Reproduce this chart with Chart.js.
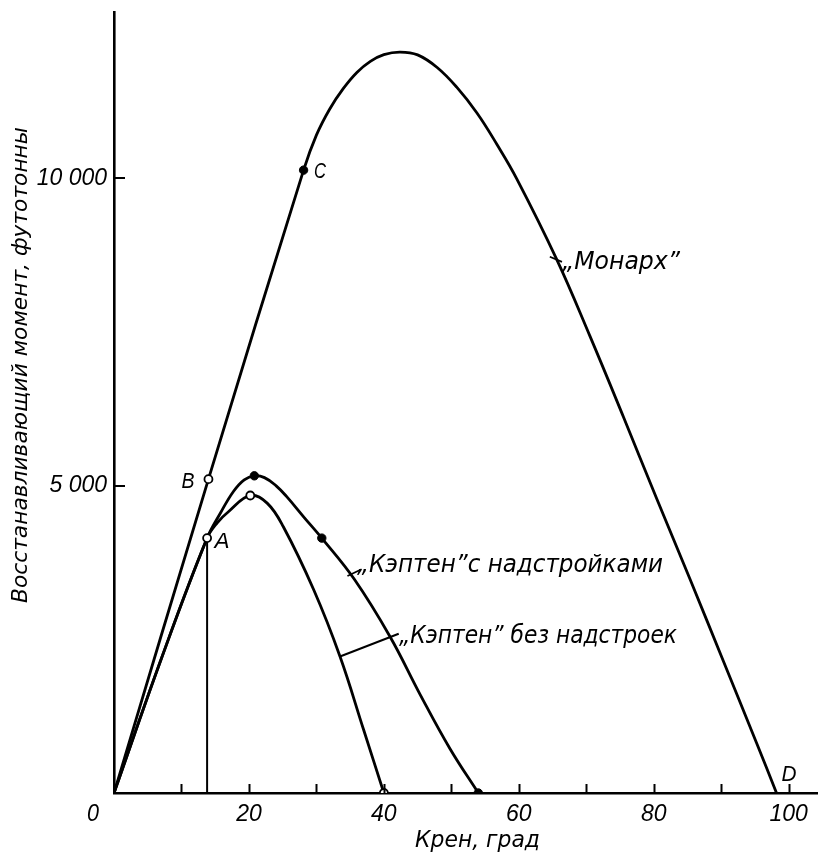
<!DOCTYPE html>
<html>
<head>
<meta charset="utf-8">
<script src="https://cdn.jsdelivr.net/npm/chart.js@4.4.1/dist/chart.umd.min.js"></script>
<style>
html,body{margin:0;padding:0;background:#fff;}
canvas{display:block;}
</style>
</head>
<body>
<canvas id="c" width="818" height="854" style="width:818px;height:854px"></canvas>
<script>
// ---- data (heel angle in degrees, righting moment in foot-tons) ----
const monarchX = [0, 14.0, 28.1, 30.0, 32.0, 34.0, 36.0, 38.0, 40.0, 42.4, 45.0, 47.9, 50.8, 53.8, 56.7, 59.7, 65.6, 70.5, 75.5, 80.4, 85.4, 90.3, 95.2, 98.2];
const monarchY = [0, 5105, 10131, 10700, 11130, 11460, 11720, 11900, 12010, 12051, 12005, 11800, 11480, 11060, 10560, 9990, 8684, 7443, 6120, 4797, 3473, 2150, 826, 0];

const captainWithX = [0, 7, 13.8, 15.8, 17.7, 19.3, 20.8, 22.3, 24.0, 25.6, 28.2, 30.8, 35.6, 40.9, 45.4, 49.8, 54.0];
const captainWithY = [0, 2180, 4146, 4558, 4904, 5094, 5159, 5130, 5000, 4820, 4480, 4146, 3480, 2546, 1597, 720, 0];

const captainWithoutX = [0, 7, 13.8, 15.3, 17.0, 20.2, 22.7, 25.1, 29.6, 33.5, 37.0, 40.0];
const captainWithoutY = [0, 2180, 4146, 4394, 4579, 4839, 4715, 4330, 3305, 2220, 1028, 0];

// marked points
const openPointsX = [13.8, 14.0, 20.2, 40.0];      // A, B, peak "without", end "without"
const openPointsY = [4146, 5105, 4839, 0];
const filledPointsX = [28.1, 20.8, 30.8, 54.0];    // C, peak "with", point on "with", end "with"
const filledPointsY = [10131, 5159, 4146, 0];

// vertical line from A
const lineAX = [13.8, 13.8];
const lineAY = [0, 4146];
// leader lines of the curve labels
const leaderWithoutX = [33.5, 42.2];
const leaderWithoutY = [2220, 2590];
const leaderMonarchX = [64.6, 66.4];
const leaderMonarchY = [8722, 8640];
const leaderWithX = [34.6, 36.7];
const leaderWithY = [3530, 3640];

// axes
const xTickValues = [0, 10, 20, 30, 40, 50, 60, 70, 80, 90, 100];
const xLabelValues = [20, 40, 60, 80, 100];
const yTickValues = [5000, 10000];
const yTickLabels = ['5 000', '10 000'];

const xTitle = 'Крен, град';
const yTitle = 'Восстанавливающий момент, футотонны';
const curveLabels = ['„Монарх”', '„Кэптен”с надстройками', '„Кэптен” без надстроек'];
const pointLetters = ['A', 'B', 'C', 'D'];

const pts = (xs, ys) => xs.map((x, i) => ({x: x, y: ys[i]}));

const curve = (xs, ys) => ({
  data: pts(xs, ys), showLine: true, pointRadius: 0, borderColor: '#000',
  borderWidth: 2.8, tension: 0.4, cubicInterpolationMode: 'default', fill: false
});
const straight = (xs, ys, w) => ({
  data: pts(xs, ys), showLine: true, pointRadius: 0, borderColor: '#000',
  borderWidth: w, tension: 0, fill: false
});

const FONT_TICK = '"Liberation Sans", Arial, sans-serif';
const FONT_LBL = '"DejaVu Sans", "Liberation Sans", sans-serif';

function drawFit(ctx, text, x, y, w, font, align, rot) {
  ctx.save();
  ctx.font = font;
  ctx.textBaseline = 'alphabetic';
  ctx.textAlign = 'left';
  ctx.fillStyle = '#000';
  const m = ctx.measureText(text).width;
  ctx.translate(x, y);
  if (rot) ctx.rotate(rot);
  ctx.scale(w / m, 1);
  ctx.fillText(text, align === 'center' ? -m / 2 : 0, 0);
  ctx.restore();
}

const annot = {
  id: 'annot',
  afterDraw(chart) {
    const ctx = chart.ctx;
    const xs = chart.scales.x, ys = chart.scales.y;
    ctx.save();
    ctx.strokeStyle = '#000';
    ctx.lineWidth = 2;
    // inward tick marks
    xs.ticks.forEach(t => {
      if (t.value === 0) return;
      const px = Math.round(xs.getPixelForValue(t.value)) + 0.5;
      ctx.beginPath(); ctx.moveTo(px, ys.bottom); ctx.lineTo(px, ys.bottom - 9); ctx.stroke();
    });
    ys.ticks.forEach(t => {
      const py = Math.round(ys.getPixelForValue(t.value));
      ctx.beginPath(); ctx.moveTo(xs.left, py); ctx.lineTo(xs.left + 11, py); ctx.stroke();
    });
    ctx.restore();

    // axis titles
    drawFit(ctx, yTitle, 27, 603, 476, 'italic 21px ' + FONT_LBL, 'left', -Math.PI / 2);
    drawFit(ctx, xTitle, 415, 847, 125, 'italic 23px ' + FONT_LBL, 'left');
    // origin label
    drawFit(ctx, '0', 93, 821, 12, 'italic 23px ' + FONT_TICK, 'center');
    // curve labels
    drawFit(ctx, curveLabels[0], 562, 269, 118, 'italic 25px ' + FONT_LBL, 'left');
    drawFit(ctx, curveLabels[1], 357, 572, 306, 'italic 25px ' + FONT_LBL, 'left');
    drawFit(ctx, curveLabels[2], 399, 643, 278, 'italic 25px ' + FONT_LBL, 'left');
    // point letters
    drawFit(ctx, pointLetters[0], 222, 548, 15, 'italic 22px ' + FONT_TICK, 'center');
    drawFit(ctx, pointLetters[1], 188, 488, 13, 'italic 22px ' + FONT_TICK, 'center');
    drawFit(ctx, pointLetters[2], 320, 178, 12, 'italic 22px ' + FONT_TICK, 'center');
    drawFit(ctx, pointLetters[3], 789, 781, 15, 'italic 22px ' + FONT_TICK, 'center');
  }
};

new Chart(document.getElementById('c'), {
  type: 'scatter',
  data: {
    datasets: [
      {data: pts(openPointsX, openPointsY), pointRadius: 4, pointHoverRadius: 4,
       pointBackgroundColor: '#fff', pointBorderColor: '#000', pointBorderWidth: 1.8, showLine: false},
      {data: pts(filledPointsX, filledPointsY), pointRadius: 4.2, pointHoverRadius: 4.2,
       pointBackgroundColor: '#000', pointBorderColor: '#000', pointBorderWidth: 1, showLine: false},
      curve(monarchX, monarchY),
      curve(captainWithX, captainWithY),
      curve(captainWithoutX, captainWithoutY),
      straight(lineAX, lineAY, 2),
      straight(leaderWithoutX, leaderWithoutY, 2),
      straight(leaderMonarchX, leaderMonarchY, 1.8),
      straight(leaderWithX, leaderWithY, 1.8)
    ]
  },
  options: {
    responsive: false,
    devicePixelRatio: 1,
    animation: false,
    events: [],
    layout: {autoPadding: false, padding: {left: 0, right: 1, top: 12, bottom: 0}},
    plugins: {legend: {display: false}, tooltip: {enabled: false}},
    scales: {
      x: {
        type: 'linear', position: 'bottom', min: 0, max: 104.2,
        afterBuildTicks: s => { s.ticks = xTickValues.map(v => ({value: v})); },
        afterFit: s => { s.height = 61; s.paddingLeft = 0; s.paddingRight = 0; },
        grid: {display: false, drawTicks: false},
        border: {display: true, color: '#000', width: 2.6},
        ticks: {
          autoSkip: false, maxRotation: 0, padding: 8, color: '#000',
          font: {family: FONT_TICK, size: 23, style: 'italic'},
          callback: v => xLabelValues.includes(v) ? String(v) : ''
        }
      },
      y: {
        type: 'linear', position: 'left', min: 0, max: 12703,
        afterBuildTicks: s => { s.ticks = yTickValues.map(v => ({value: v})); },
        afterFit: s => { s.width = 114; s.paddingTop = 0; s.paddingBottom = 0; },
        grid: {display: false, drawTicks: false},
        border: {display: true, color: '#000', width: 2.6},
        ticks: {
          padding: 7, color: '#000',
          font: {family: FONT_TICK, size: 23, style: 'italic'},
          callback: v => { const i = yTickValues.indexOf(v); return i >= 0 ? yTickLabels[i] : ''; }
        }
      }
    }
  },
  plugins: [annot]
});
</script>
</body>
</html>
